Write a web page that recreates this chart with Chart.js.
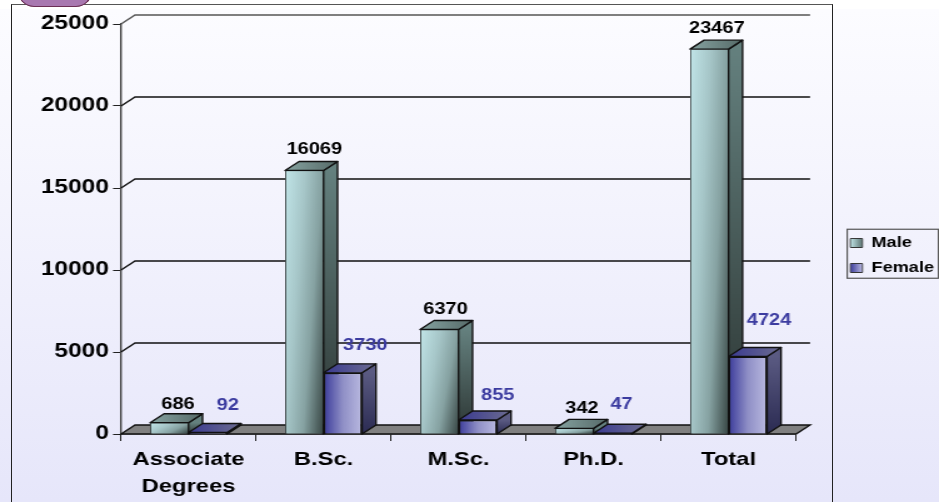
<!DOCTYPE html>
<html><head><meta charset="utf-8">
<script src="https://cdn.jsdelivr.net/npm/chart.js@4"></script>
<style>
html,body{margin:0;padding:0;background:#fff;width:939px;height:502px;overflow:hidden}
#bg{position:absolute;left:0;top:9px;width:939px;height:493px;background:linear-gradient(#fcfcff,#e6e6fa)}
#frame{position:absolute;left:11px;top:4px;width:820px;height:520px;border:1.5px solid #222;border-top-color:#555}
#badge{position:absolute;left:18px;top:-9px;width:72px;height:14px;background:#a878b0;border:1px solid #6b2f55;border-radius:0 0 26px 26px}
#wrap{position:absolute;left:0;top:0;transform-origin:0 0;transform:scaleX(1.2503)}
canvas{display:block}
</style></head><body>
<div id="bg"></div><div id="frame"></div><div id="badge"></div>
<div id="wrap"><canvas id="c" width="757" height="502"></canvas></div>
<script>
const categories = [["Associate","Degrees"],"B.Sc.","M.Sc.","Ph.D.","Total"];
const maleValues = [686,16069,6370,342,23467];
const femaleValues = [92,3730,855,47,4724];
const yTicks = [0,5000,10000,15000,20000,25000];
const maleLabelShift = [[7,-18],[8,-21],[5,-20],[6,-20],[6,-21]];
const femaleLabelShift = [[16,-27],[18,-27],[16,-24],[7,-29],[17,-36]];
const seriesInk = ["#000000","#3c3ca0"];
const DX = 11.2, DY = -9, CAT = 0.57;

function barBox(chart, dsIndex, i){
  const x = chart.scales.x, band = x.width / categories.length, w = band * CAT / 2;
  const c = x.getPixelForValue(i);
  return {l: c - w + dsIndex * w, r: c + dsIndex * w, w};
}
function frontFill(ctx){
  const chart = ctx.chart; if(!chart.chartArea || ctx.dataIndex === undefined) return "#999";
  const b = barBox(chart, ctx.datasetIndex, ctx.dataIndex);
  const g = chart.ctx.createLinearGradient(b.l,0,b.r,0);
  if(ctx.datasetIndex === 0){ g.addColorStop(0,"#bfe2e5"); g.addColorStop(1,"#6e8685"); }
  else { g.addColorStop(0,"#3b3b9b"); g.addColorStop(.5,"#8f8fc6"); g.addColorStop(1,"#b9b9e0"); }
  return g;
}
function maleSheen(c,l,t,w,h){
  // gradient laid out in the bar's own unit square, so it tilts with the bar's shape
  c.save(); c.translate(l,t); c.scale(w,h);
  const g = c.createLinearGradient(0,0,1.193,.642);
  g.addColorStop(0,"#c0e4e7"); g.addColorStop(.35,"#a6c6c8"); g.addColorStop(.65,"#86a2a2"); g.addColorStop(1,"#3a4947");
  c.fillStyle=g; c.fillRect(0,0,1,1); c.restore();
}
function poly(c, pts, fill){
  c.beginPath(); pts.forEach((p,i)=> i? c.lineTo(p[0],p[1]) : c.moveTo(p[0],p[1])); c.closePath();
  c.fillStyle = fill; c.fill(); c.stroke();
}
function drawFaces(chart, ds){
  const c = chart.ctx, y = chart.scales.y, base = y.getPixelForValue(0);
  const vals = ds===0?maleValues:femaleValues;
  c.save(); c.strokeStyle="#111"; c.lineWidth=1.4; c.lineJoin="round";
  vals.forEach((v,i)=>{
    const b = barBox(chart,ds,i), t = y.getPixelForValue(v);
    const side = c.createLinearGradient(0,t,0,base);
    const top = c.createLinearGradient(b.l,0,b.r+DX,0);
    if(ds===0){ side.addColorStop(0,"#64807e"); side.addColorStop(1,"#2b3432"); top.addColorStop(0,"#86a3a1"); top.addColorStop(1,"#566a68"); }
    else { side.addColorStop(0,"#5a5a82"); side.addColorStop(1,"#2b2b52"); top.addColorStop(0,"#3a3a90"); top.addColorStop(1,"#6c6c90"); }
    poly(c,[[b.r,t],[b.r+DX,t+DY],[b.r+DX,base+DY],[b.r,base]],side);
    poly(c,[[b.l,t],[b.l+DX,t+DY],[b.r+DX,t+DY],[b.r,t]],top);
  });
  c.restore();
}
const threeD = {
  id:"threeD",
  afterLayout(chart){ const x = chart.scales.x; x.bottom = chart.height; x.height = x.bottom - x.top; },
  beforeDatasetsDraw(chart){
    const c = chart.ctx, y = chart.scales.y, a = chart.chartArea;
    c.save(); c.strokeStyle="#111"; c.lineWidth=1.4;
    yTicks.forEach(v=>{
      const p = y.getPixelForValue(v);
      if(v===0){ poly(c,[[a.left,p],[a.left+DX,p+DY],[a.right+DX,p+DY],[a.right,p]],"#808080"); return; }
      c.strokeStyle = v===25000 ? "#555" : "#111";
      c.beginPath(); c.moveTo(a.left,p); c.lineTo(a.left+DX,p+DY); c.lineTo(a.right+DX,p+DY); c.stroke();
      c.strokeStyle="#111";
    });
    c.restore();
    drawFaces(chart,0);
  },
  beforeDatasetDraw(chart,args){ if(args.index===1) drawFaces(chart,1); },
  afterDatasetDraw(chart,args){
    if(args.index!==0) return;
    const c = chart.ctx, y = chart.scales.y, base = y.getPixelForValue(0);
    maleValues.forEach((v,i)=>{
      const b = barBox(chart,0,i), t = y.getPixelForValue(v);
      maleSheen(c,b.l+.7,t+.7,b.w-1.4,base-t-1.4);
    });
  },
  afterDatasetsDraw(chart){
    const c = chart.ctx, y = chart.scales.y;
    c.save(); c.font="bold 16px 'Liberation Sans'"; c.textAlign="center"; c.textBaseline="middle";
    [maleValues,femaleValues].forEach((vals,ds)=>{
      const shifts = ds===0?maleLabelShift:femaleLabelShift;
      c.fillStyle = seriesInk[ds];
      vals.forEach((v,i)=>{
        const b = barBox(chart,ds,i);
        c.fillText(String(v),(b.l+b.r)/2+shifts[i][0],y.getPixelForValue(v)+shifts[i][1]);
      });
    });
    c.restore();
  },
  afterDraw(chart){
    const c = chart.ctx, lg = chart.legend, hb = lg.legendHitBoxes;
    if(!hb||!hb.length) return;
    c.save();
    c.strokeStyle="#555"; c.lineWidth=1.2;
    const top = hb[0].top-6.5, bot = hb[hb.length-1].top+hb[hb.length-1].height+3;
    c.strokeRect(677.6,top,73,bot-top);
    hb.forEach((h,i)=>{
      const g = c.createLinearGradient(h.left,0,h.left+9.6,0);
      if(i===0){ g.addColorStop(0,"#c0e4e7"); g.addColorStop(1,"#5d7472"); }
      else { g.addColorStop(0,"#3b3b9b"); g.addColorStop(1,"#b9b9e0"); }
      c.fillStyle=g; c.fillRect(h.left+.5,h.top+3.2,8.6,8);
    });
    c.restore();
  }
};

new Chart(document.getElementById("c"),{
  type:"bar",
  data:{labels:categories,datasets:[
    {label:"Male",data:maleValues,backgroundColor:frontFill,borderColor:"#111",borderWidth:1.4,categoryPercentage:CAT,barPercentage:1},
    {label:"Female",data:femaleValues,backgroundColor:frontFill,borderColor:"#111",borderWidth:1.4,categoryPercentage:CAT,barPercentage:1}
  ]},
  plugins:[threeD],
  options:{
    responsive:false,animation:false,devicePixelRatio:1,
    layout:{padding:{top:24,bottom:15,left:0,right:0}},
    scales:{
      x:{grid:{drawOnChartArea:false,tickLength:7,color:"#222",offset:true},border:{color:"#444",width:1.4},
         ticks:{color:"#000",font:{family:"'Liberation Sans'",size:19,weight:"bold",lineHeight:1.42},padding:5,maxRotation:0,autoSkip:false},
         afterFit(s){s.height=53;}},
      y:{min:0,max:25000,afterBuildTicks(s){s.ticks=yTicks.map(v=>({value:v}));},
         grid:{drawOnChartArea:false,tickLength:6.4,color:"#222"},border:{color:"#444",width:1.4},
         ticks:{color:"#000",font:{family:"'Liberation Sans'",size:19.5,weight:"bold"},padding:3.4,callback:v=>String(v)},
         afterFit(s){s.width=96.8;}},
      y2:{position:"right",display:true,grid:{display:false},border:{display:false},ticks:{display:false},
         afterFit(s){s.width=33;}}
    },
    plugins:{
      title:{display:false},tooltip:{enabled:false},
      legend:{position:"right",align:"center",
        labels:{color:"#000",boxWidth:9.6,boxHeight:9,padding:10.5,font:{family:"'Liberation Sans'",size:14.5,weight:"bold"},
          generateLabels(){return [
            {text:"Male",fillStyle:"#93b4b4",strokeStyle:"#333",lineWidth:1,datasetIndex:0,hidden:false},
            {text:"Female",fillStyle:"#8080c4",strokeStyle:"#333",lineWidth:1,datasetIndex:1,hidden:false}];}}}
    }
  }
});
</script>
</body></html>
